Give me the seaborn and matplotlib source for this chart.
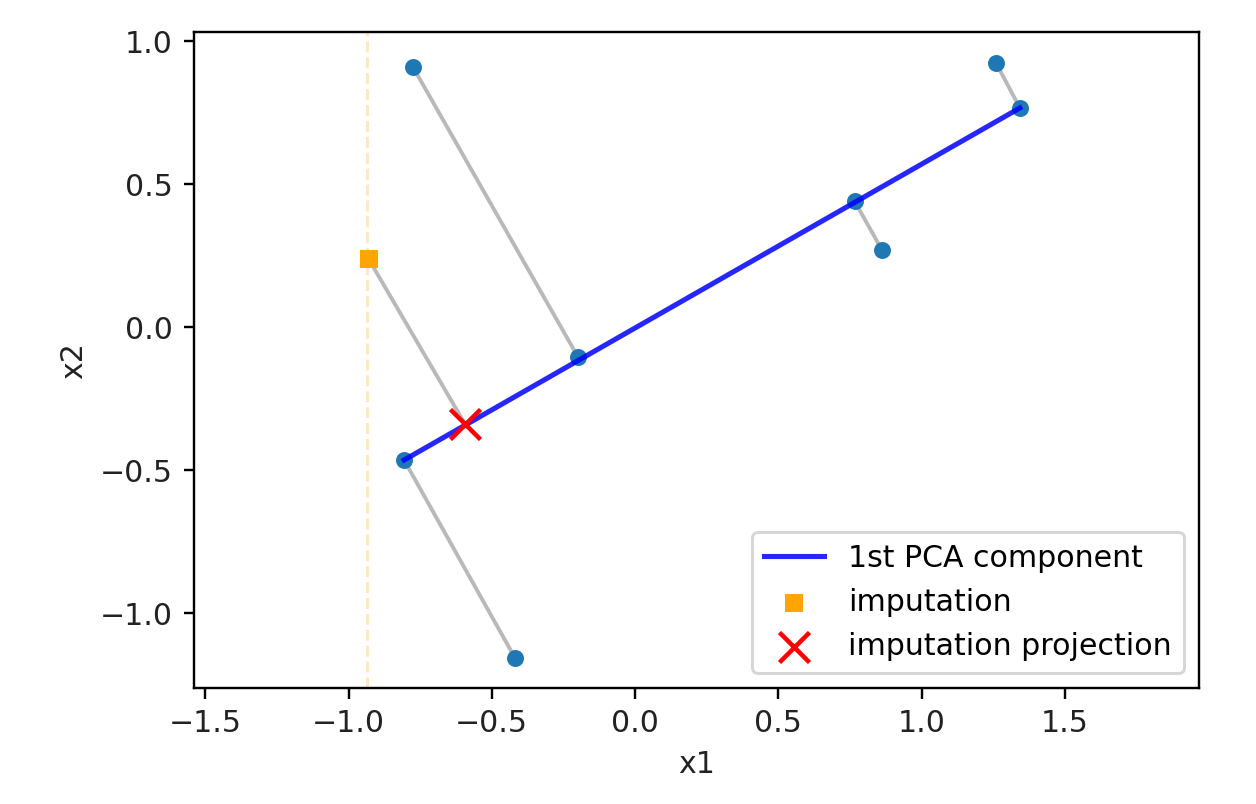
import matplotlib
matplotlib.use("Agg")
import matplotlib.pyplot as plt
import seaborn as sns
import pandas as pd

# Data
orig_x = [-0.775, 1.260, 0.862, -0.419]
orig_y = [0.909, 0.923, 0.269, -1.157]
proj_x = [-0.199, 1.343, 0.766, -0.806]
proj_y = [-0.105, 0.766, 0.440, -0.465]
imp_x = [-0.930]
imp_y = [0.238]
impproj_x = [-0.594]
impproj_y = [-0.338]
vline_x = -0.936
pca_x = [-0.806, 1.343]
pca_y = [-0.465, 0.766]
xlim = (-1.539, 1.968)
ylim = (-1.262, 1.031)

fig = plt.figure(figsize=(1256 / 216, 804 / 216), dpi=216)
ax = fig.add_axes([0.1545, 0.1443, 0.8001, 0.8157])

# connecting segments
seg_rows = []
for i, (ox, oy, px, py) in enumerate(zip(orig_x, orig_y, proj_x, proj_y)):
    seg_rows.append({"seg": i, "order": 0, "x": ox, "y": oy})
    seg_rows.append({"seg": i, "order": 1, "x": px, "y": py})
seg_rows.append({"seg": 99, "order": 0, "x": imp_x[0], "y": imp_y[0]})
seg_rows.append({"seg": 99, "order": 1, "x": impproj_x[0], "y": impproj_y[0]})
seg = pd.DataFrame(seg_rows)
sns.lineplot(data=seg, x="x", y="y", units="seg", estimator=None, sort=False,
             color="#a8a8a8", alpha=0.8, linewidth=1.3, ax=ax, legend=False, zorder=1)

ax.axvline(vline_x, color="#ffcc80", alpha=0.45, linestyle="--", linewidth=1.0, zorder=0)

pts = pd.DataFrame({"x": orig_x + proj_x, "y": orig_y + proj_y})
sns.scatterplot(data=pts, x="x", y="y", color="#1f77b4", s=32, linewidth=0, ax=ax, zorder=2)

pca = pd.DataFrame({"x": pca_x, "y": pca_y})
sns.lineplot(data=pca, x="x", y="y", sort=False, estimator=None, color="blue", alpha=0.85,
             linewidth=1.7, ax=ax, label="1st PCA component", zorder=3)

imp = pd.DataFrame({"x": imp_x, "y": imp_y})
sns.scatterplot(data=imp, x="x", y="y", color="orange", marker="s", s=36, linewidth=0,
                ax=ax, label="imputation", zorder=4)

ip = pd.DataFrame({"x": impproj_x, "y": impproj_y})
sns.scatterplot(data=ip, x="x", y="y", color="red", marker="x", s=100, linewidth=1.5,
                ax=ax, label="imputation projection", zorder=5)

ax.set_xlim(*xlim)
ax.set_ylim(*ylim)
ax.set_xticks([-1.5, -1.0, -0.5, 0.0, 0.5, 1.0, 1.5])
ax.set_yticks([-1.0, -0.5, 0.0, 0.5, 1.0])
ax.set_xlabel("x1", color="#222222")
ax.set_ylabel("x2", color="#222222")
ax.tick_params(labelcolor="#222222")
ax.legend(loc="lower right")

fig.savefig("out.png", dpi=216, facecolor="white")
